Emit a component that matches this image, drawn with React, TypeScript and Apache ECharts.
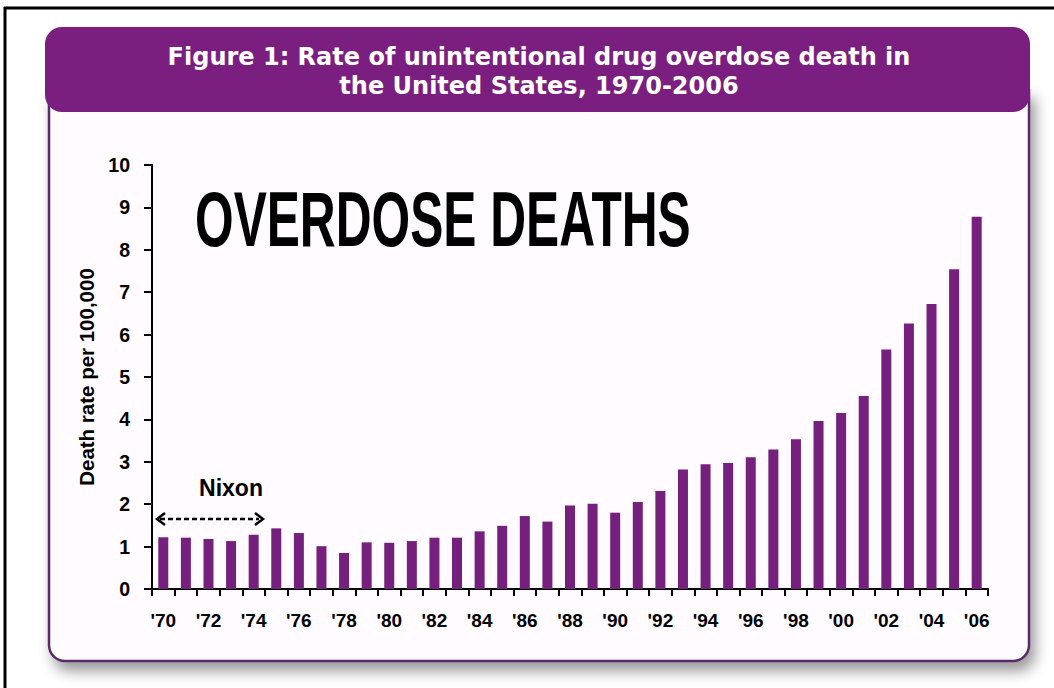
import React, { useEffect, useRef } from "react";
import * as echarts from "echarts";

const yearLabels = [
  "'70", "'71", "'72", "'73", "'74", "'75", "'76", "'77", "'78", "'79",
  "'80", "'81", "'82", "'83", "'84", "'85", "'86", "'87", "'88", "'89",
  "'90", "'91", "'92", "'93", "'94", "'95", "'96", "'97", "'98", "'99",
  "'00", "'01", "'02", "'03", "'04", "'05", "'06",
];
const deathRates = [
  1.22, 1.21, 1.18, 1.13, 1.28, 1.43, 1.32, 1.01, 0.85, 1.1,
  1.09, 1.13, 1.21, 1.21, 1.36, 1.49, 1.72, 1.59, 1.97, 2.01,
  1.8, 2.05, 2.31, 2.82, 2.94, 2.97, 3.11, 3.29, 3.53, 3.96,
  4.15, 4.55, 5.65, 6.26, 6.72, 7.54, 8.78,
];
const titleLines = [
  "Figure 1: Rate of unintentional drug overdose death in",
  "the United States, 1970-2006",
];
const yAxisTitle = "Death rate per 100,000";
const bigLabel = "OVERDOSE DEATHS";
const nixonLabel = "Nixon";

const PURPLE = "#7a1f80";
const BAR = "#74207c";

export default function App() {
  const ref = useRef<HTMLDivElement>(null);
  useEffect(() => {
    if (!ref.current) return;
    const chart = echarts.init(ref.current, null, { renderer: "svg" });
    const font = "Liberation Sans, Arial, sans-serif";
    chart.setOption({
      animation: false,
      backgroundColor: "#ffffff",
      grid: { left: 152, right: 66, top: 165, bottom: 99, containLabel: false },
      xAxis: {
        type: "category",
        data: yearLabels,
        axisLine: { show: true, lineStyle: { color: "#000", width: 2 } },
        axisTick: { show: true, interval: 0, length: 7, lineStyle: { color: "#000", width: 2 } },
        axisLabel: {
          interval: 1,
          margin: 22,
          color: "#000",
          fontFamily: font,
          fontWeight: "bold",
          fontSize: 19,
        },
        splitLine: { show: false },
      },
      yAxis: {
        type: "value",
        min: 0,
        max: 10,
        interval: 1,
        name: yAxisTitle,
        nameLocation: "middle",
        nameRotate: 90,
        nameGap: 54,
        nameTextStyle: { color: "#000", fontFamily: font, fontWeight: "bold", fontSize: 20.5 },
        axisLine: { show: true, lineStyle: { color: "#000", width: 2 } },
        axisTick: { show: true, length: 8, lineStyle: { color: "#000", width: 2 } },
        axisLabel: {
          margin: 22,
          color: "#000",
          fontFamily: font,
          fontWeight: "bold",
          fontSize: 19.5,
        },
        splitLine: { show: false },
      },
      series: [
        {
          type: "bar",
          data: deathRates,
          barWidth: 10,
          itemStyle: { color: BAR },
          z: 5,
        },
      ],
      graphic: [
        // outer black frame
        { type: "line", z: -20, shape: { x1: 4, y1: 8, x2: 1054, y2: 8 }, style: { stroke: "#000", lineWidth: 3 } },
        { type: "line", z: -20, shape: { x1: 5, y1: 7, x2: 5, y2: 688 }, style: { stroke: "#000", lineWidth: 3 } },
        // content box with shadow
        {
          type: "rect",
          z: -15,
          shape: { x: 49, y: 90, width: 980, height: 571, r: [0, 0, 16, 16] },
          style: {
            fill: "#fffbff",
            stroke: "#5a2a68",
            lineWidth: 2.5,
            shadowBlur: 14,
            shadowOffsetX: 5,
            shadowOffsetY: 9,
            shadowColor: "rgba(0,0,0,0.4)",
          },
        },
        // header
        {
          type: "rect",
          z: -10,
          shape: { x: 45, y: 27, width: 985, height: 85, r: 17 },
          style: { fill: PURPLE },
        },
        {
          type: "text",
          z: 10,
          x: 539,
          y: 57,
          style: {
            text: titleLines[0],
            fill: "#fff",
            font: "bold 24px 'DejaVu Sans', Verdana, sans-serif",
            textAlign: "center",
            textVerticalAlign: "middle",
          },
        },
        {
          type: "text",
          z: 10,
          x: 539,
          y: 86,
          style: {
            text: titleLines[1],
            fill: "#fff",
            font: "bold 24px 'DejaVu Sans', Verdana, sans-serif",
            textAlign: "center",
            textVerticalAlign: "middle",
          },
        },
        // big overlay label
        {
          type: "text",
          z: 10,
          x: 195,
          y: 219,
          scaleX: 0.645,
          style: {
            text: bigLabel,
            fill: "#000",
            font: "bold 77px 'Liberation Sans', Arial, sans-serif",
            textAlign: "left",
            textVerticalAlign: "middle",
          },
        },
        // Nixon annotation
        {
          type: "text",
          z: 10,
          x: 231,
          y: 488,
          style: {
            text: nixonLabel,
            fill: "#000",
            font: "bold 23px 'Liberation Sans', Arial, sans-serif",
            textAlign: "center",
            textVerticalAlign: "middle",
          },
        },
        {
          type: "line",
          z: 10,
          shape: { x1: 160, y1: 519, x2: 259, y2: 519 },
          style: { stroke: "#000", lineWidth: 2.5, lineDash: [5, 3] },
        },
        {
          type: "polyline",
          z: 10,
          shape: { points: [[165, 513], [157, 519], [165, 525]] },
          style: { stroke: "#000", lineWidth: 2.5, fill: null },
        },
        {
          type: "polyline",
          z: 10,
          shape: { points: [[255, 513], [263, 519], [255, 525]] },
          style: { stroke: "#000", lineWidth: 2.5, fill: null },
        },
      ],
    });
    return () => chart.dispose();
  }, []);
  return (
    <div
      ref={ref}
      style={{ position: "absolute", left: 0, top: 0, width: 1054, height: 688 }}
    />
  );
}
